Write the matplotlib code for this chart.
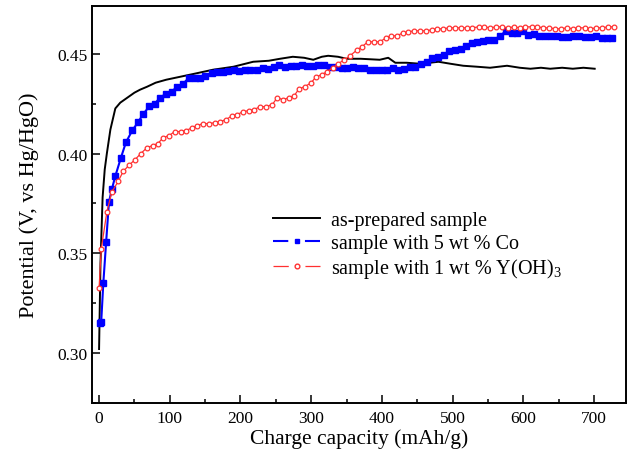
import numpy as np
import matplotlib.pyplot as plt
from matplotlib.lines import Line2D
from matplotlib.ticker import MultipleLocator

plt.rcParams['font.family'] = ['Liberation Serif', 'DejaVu Serif']
plt.rcParams['mathtext.fontset'] = 'custom'
plt.rcParams['mathtext.rm'] = 'Liberation Serif'
plt.rcParams['lines.scale_dashes'] = False

# ---- data ----
cap_black = [0, 2, 5, 8, 11, 16, 23, 30, 40, 50, 58, 68, 80, 95, 115, 135, 161, 190, 218, 240,
             256, 274, 290, 303, 315, 324, 338, 350, 370, 397, 409, 419, 435, 454, 468, 480,
             497, 515, 535, 553, 565, 577, 595, 610, 625, 638, 655, 670, 685, 701]
v_black = [0.302, 0.345, 0.378, 0.392, 0.400, 0.412, 0.4226, 0.4255, 0.428, 0.4305, 0.432,
           0.4335, 0.4355, 0.437, 0.4385, 0.440, 0.442, 0.4435, 0.446, 0.4465,
           0.4475, 0.4485, 0.448, 0.447, 0.4485, 0.449, 0.4485, 0.4475, 0.4475, 0.447, 0.448,
           0.4455, 0.4455, 0.445, 0.4455, 0.446, 0.445, 0.444, 0.4435, 0.443, 0.4435,
           0.444, 0.443, 0.4425, 0.443, 0.4425, 0.443, 0.4425, 0.443, 0.4425]

cap_co = [1, 3, 6, 10, 14, 18, 23, 31, 38, 47, 55, 62, 71, 79, 86, 95, 103, 110, 119, 127,
          136, 143, 150, 160, 167, 175, 183, 191, 198, 206, 214, 223, 232, 239, 247, 255,
          263, 272, 279, 287, 294, 303, 310, 318, 327, 335, 344, 351, 359, 366, 375, 383,
          392, 400, 407, 416, 423, 431, 440, 447, 455, 464, 471, 479, 488, 495, 504, 512,
          519, 528, 535, 543, 550, 559, 567, 576, 584, 591, 600, 607, 615, 622, 631, 639,
          648, 655, 663, 670, 679, 687, 696, 703, 711, 719, 726]
v_co = [0.315, 0.3155, 0.335, 0.3557, 0.3757, 0.382, 0.3887, 0.398, 0.4056, 0.4116, 0.4156,
        0.4196, 0.4236, 0.425, 0.428, 0.430, 0.431, 0.4335, 0.435, 0.438,
        0.438, 0.438, 0.439, 0.4405, 0.441, 0.441, 0.4415, 0.442, 0.4415, 0.442, 0.442,
        0.442, 0.443, 0.4425, 0.4435, 0.4445, 0.4435, 0.444, 0.444, 0.4445, 0.444, 0.444,
        0.4445, 0.4445, 0.4435, 0.4435, 0.443, 0.443, 0.4435, 0.443, 0.443, 0.442,
        0.442, 0.442, 0.442, 0.443, 0.442, 0.4425, 0.4435, 0.4435, 0.445, 0.446, 0.448,
        0.4485, 0.4495, 0.4515, 0.452, 0.4525, 0.454, 0.4555, 0.456, 0.4565, 0.457, 0.457,
        0.459, 0.4615, 0.4605, 0.4605, 0.4615, 0.4595, 0.460, 0.459, 0.459, 0.459,
        0.459, 0.4585, 0.4585, 0.459, 0.459, 0.4585, 0.4585, 0.459, 0.458, 0.458, 0.458]

cap_y = [0, 3, 11, 18, 27, 34, 42, 51, 59, 68, 76, 83, 91, 99, 107, 116, 123, 132, 139, 147,
         156, 164, 171, 180, 188, 195, 204, 212, 219, 228, 236, 245, 252, 260, 269, 276,
         283, 291, 300, 307, 315, 322, 331, 338, 347, 355, 365, 372, 380, 389, 397, 406,
         413, 421, 430, 437, 446, 454, 462, 471, 478, 487, 495, 503, 512, 520, 528, 537,
         545, 553, 562, 570, 578, 587, 595, 603, 612, 620, 628, 637, 645, 653, 662, 670,
         678, 687, 695, 703, 712, 720, 728]
v_y = [0.3324, 0.352, 0.3707, 0.3807, 0.386, 0.391, 0.394, 0.397, 0.400, 0.403, 0.404,
       0.405, 0.408, 0.409, 0.411, 0.411, 0.4115, 0.413, 0.414, 0.415,
       0.415, 0.4155, 0.416, 0.417, 0.419, 0.4195, 0.421, 0.4215, 0.422, 0.4235, 0.4235,
       0.4245, 0.428, 0.427, 0.428, 0.429, 0.4325, 0.4335, 0.4355, 0.4385, 0.4395, 0.441,
       0.443, 0.445, 0.447, 0.449, 0.452, 0.4535, 0.456, 0.456, 0.456, 0.458,
       0.459, 0.459, 0.4605, 0.461, 0.4615, 0.4615, 0.4615, 0.462, 0.4625, 0.4625, 0.463,
       0.463, 0.463, 0.463, 0.463, 0.4635, 0.4635, 0.463, 0.4635, 0.4635, 0.463, 0.4635,
       0.463, 0.4635, 0.4635, 0.4635, 0.463, 0.463, 0.4625, 0.4625, 0.463, 0.4625, 0.463,
       0.463, 0.4625, 0.463, 0.463, 0.4635, 0.4635]

labels = ['as-prepared sample', 'sample with 5 wt % Co', 'sample with 1 wt % Y(OH)$_3$']

fig = plt.figure(figsize=(6.28, 4.60), dpi=100)
ax = fig.add_axes([0.1465, 0.122, 0.850, 0.863])

ax.plot(cap_black, v_black, color='black', lw=1.4)
ax.plot(cap_co, v_co, color='#0000ff', lw=1.5, marker='s', ms=4.2, mec='#0000ff', mfc='#0000ff')
ax.plot(cap_y, v_y, color='#ff3030', lw=0.9, marker='o', ms=3.4, mec='#ff3030', mfc='white', mew=0.9)

ax.set_xlim(-10, 745)
ax.set_ylim(0.275, 0.474)
ax.xaxis.set_major_locator(MultipleLocator(100))
ax.xaxis.set_minor_locator(MultipleLocator(50))
ax.yaxis.set_major_locator(MultipleLocator(0.05))
ax.yaxis.set_minor_locator(MultipleLocator(0.025))
ax.tick_params(which='both', direction='in', labelsize=12.5, width=1.1)
ax.tick_params(which='major', length=6)
ax.tick_params(which='minor', length=3)
ax.tick_params(axis='x', pad=5)
ax.yaxis.set_major_formatter(plt.FormatStrFormatter('%.2f'))
for s in ax.spines.values():
    s.set_linewidth(1.4)

ax.set_xlabel('Charge capacity (mAh/g)', fontsize=15.5, labelpad=2)
ax.set_ylabel('Potential (V, vs Hg/HgO)', fontsize=16, labelpad=13)

handles = [
    Line2D([], [], color='black', lw=1.4),
    Line2D([], [], color='#0000ff', lw=1.5, dashes=(11, 12), marker='s', ms=3.5, markevery=[1]),
    Line2D([], [], color='#ff3030', lw=0.9, dashes=(11, 12), marker='o', ms=3.4, mfc='white', markevery=[1]),
]
leg = ax.legend(handles, labels, loc='upper left', bbox_to_anchor=(0.339, 0.484), frameon=False,
                fontsize=14.5, handlelength=2.34, handletextpad=0.55, labelspacing=0.18,
                borderpad=0, borderaxespad=0)

fig.savefig('out.png', dpi=100)
